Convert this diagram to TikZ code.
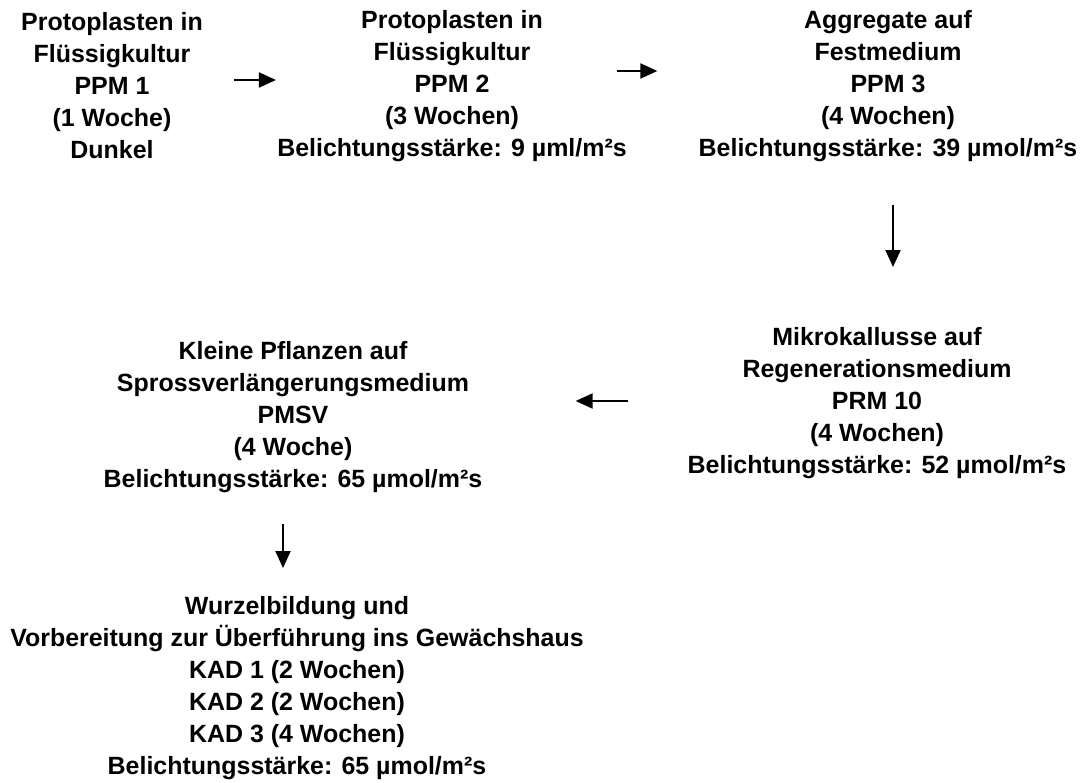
\documentclass[tikz,border=0pt]{standalone}
\usepackage{fontspec}
\setmainfont{Liberation Sans}
\usepackage{tikz}
\usetikzlibrary{arrows.meta,calc,positioning}

\begin{document}
\begin{tikzpicture}
  [x=0.02cm,y=-0.02cm,
   stage/.style={align=center,inner sep=0pt,font=\fontsize{14.2}{18.2}\selectfont\bfseries},
   flow/.style={line width=1.1pt,-{Triangle[length=0.34cm,width=0.30cm]}}]
  \useasboundingbox (0,0) rectangle (1082,783);
  \node[stage] (ppm1) at (112,86) {Protoplasten in\\Flüssigkultur\\PPM 1\\(1 Woche)\\Dunkel};
  \node[stage] (ppm2) at (452,86) {Protoplasten in\\Flüssigkultur\\PPM 2\\(3 Wochen)\\Belichtungsstärke: 9 µml/m²s};
  \node[stage] (ppm3) at (888,86) {Aggregate auf\\Festmedium\\PPM 3\\(4 Wochen)\\Belichtungsstärke: 39 µmol/m²s};
  \node[stage] (prm10) at (877,403) {Mikrokallusse auf\\Regenerationsmedium\\PRM 10\\(4 Wochen)\\Belichtungsstärke: 52 µmol/m²s};
  \node[stage] (pmsv) at (293,417) {Kleine Pflanzen auf\\Sprossverlängerungsmedium\\PMSV\\(4 Woche)\\Belichtungsstärke: 65 µmol/m²s};
  \node[stage] (kad) at (297,688) {Wurzelbildung und\\Vorbereitung zur Überführung ins Gewächshaus\\KAD 1 (2 Wochen)\\KAD 2 (2 Wochen)\\KAD 3 (4 Wochen)\\Belichtungsstärke: 65 µmol/m²s};
  \draw [flow] ($(ppm1.east)+(31,-6)$) -- ($(ppm2.west)+(-1,-6)$);
  \draw [flow] ($(ppm2.east)+(-10,-15)$) -- ($(ppm3.west)+(-41,-15)$);
  \draw [flow] ($(ppm3.south)+(5,43)$) -- ($(prm10.north)+(16,-60)$);
  \draw [flow] ($(prm10.west)+(-59,-2)$) -- ($(pmsv.east)+(93,-16)$);
  \draw [flow] ($(pmsv.south)+(-10,31)$) -- ($(kad.north)+(-14,-28)$);
\end{tikzpicture}
\end{document}
